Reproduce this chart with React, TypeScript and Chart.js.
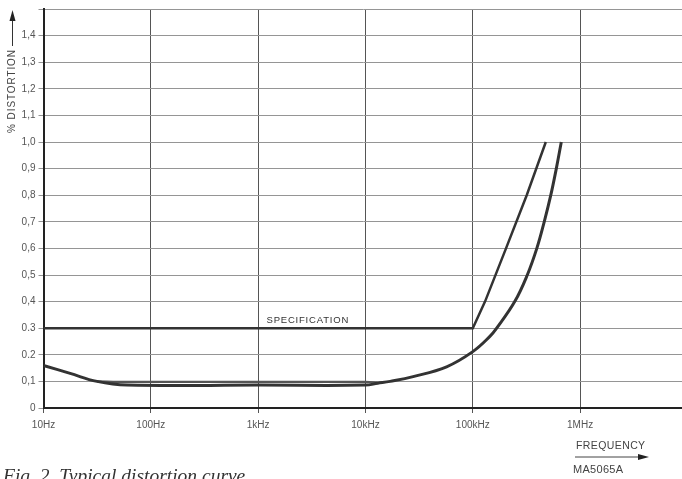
import React, { useEffect, useRef } from "react";
import { Chart, registerables } from "chart.js";

Chart.register(...registerables);

// ---- data ----
const xTickValues = [10, 100, 1000, 10000, 100000, 1000000];
const xTickLabels = ["10Hz", "100Hz", "1kHz", "10kHz", "100kHz", "1MHz"];
const yTickValues = [0, 0.1, 0.2, 0.3, 0.4, 0.5, 0.6, 0.7, 0.8, 0.9, 1.0, 1.1, 1.2, 1.3, 1.4, 1.5];
const yTickLabels = ["0", "0,1", "0.2", "0.3", "0,4", "0,5", "0,6", "0,7", "0,8", "0,9", "1,0", "1,1", "1,2", "1,3", "1,4", ""];

const specFreq = [10, 100000, 130000, 204000, 318000, 479000];
const specDist = [0.3, 0.3, 0.4, 0.6, 0.8, 1.0];

const typicalFreq = [10, 17.7, 31.5, 60, 1000, 10000, 13000, 17000, 27800, 57000, 100000, 145000, 167000, 246000, 322000, 395000, 463000, 533000, 600000, 668000];
const typicalDist = [0.16, 0.13, 0.1, 0.086, 0.086, 0.086, 0.093, 0.1, 0.118, 0.155, 0.212, 0.27, 0.3, 0.4, 0.5, 0.6, 0.7, 0.8, 0.9, 1.0];

const bandFreq = [31.5, 60, 1000, 10000, 13000];
const bandDist = [0.1, 0.098, 0.098, 0.098, 0.095];

const X_MIN = 10;
const X_MAX = 8.9e6;
const Y_MAX = 1.5;

const specLabel = "SPECIFICATION";
const specLabelAt = { x: 2900, y: 0.33 };
const yTitle = "% DISTORTION";
const xTitle = "FREQUENCY";
const figCode = "MA5065A";
const caption = "Fig. 2. Typical distortion curve";

const toPts = (xs: number[], ys: number[]) => xs.map((x, i) => ({ x, y: ys[i] }));

const INK = "#333333";

const textPlugin = {
  id: "extraText",
  afterDraw(chart: any) {
    const ctx = chart.ctx as CanvasRenderingContext2D;
    const xs = chart.scales.x;
    const ys = chart.scales.y;
    ctx.save();
    // specification label
    ctx.fillStyle = INK;
    ctx.font = "9.5px 'Liberation Sans', Arial, sans-serif";
    (ctx as any).letterSpacing = "0.8px";
    ctx.textAlign = "center";
    ctx.textBaseline = "middle";
    ctx.fillText(specLabel, xs.getPixelForValue(specLabelAt.x), ys.getPixelForValue(specLabelAt.y));

    // y title rotated with arrow
    ctx.save();
    ctx.translate(12.5, 91);
    ctx.rotate(-Math.PI / 2);
    ctx.font = "10px 'Liberation Sans', Arial, sans-serif";
    (ctx as any).letterSpacing = "0.9px";
    ctx.fillStyle = "#444";
    ctx.textAlign = "center";
    ctx.textBaseline = "middle";
    ctx.fillText(yTitle, 0, 0);
    ctx.restore();
    (ctx as any).letterSpacing = "0px";
    ctx.strokeStyle = "#333";
    ctx.lineWidth = 1;
    ctx.beginPath();
    ctx.moveTo(12.5, 46);
    ctx.lineTo(12.5, 18);
    ctx.stroke();
    ctx.fillStyle = "#222";
    ctx.beginPath();
    ctx.moveTo(12.5, 10);
    ctx.lineTo(9.5, 21);
    ctx.lineTo(15.5, 21);
    ctx.closePath();
    ctx.fill();

    // frequency label + arrow
    ctx.font = "10.5px 'Liberation Sans', Arial, sans-serif";
    (ctx as any).letterSpacing = "0.4px";
    ctx.fillStyle = "#444";
    ctx.textAlign = "left";
    ctx.textBaseline = "middle";
    ctx.fillText(xTitle, 576, 446);
    (ctx as any).letterSpacing = "0px";
    ctx.strokeStyle = "#444";
    ctx.lineWidth = 1;
    ctx.beginPath();
    ctx.moveTo(575, 457);
    ctx.lineTo(641, 457);
    ctx.stroke();
    ctx.fillStyle = "#222";
    ctx.beginPath();
    ctx.moveTo(649, 457);
    ctx.lineTo(638, 454);
    ctx.lineTo(638, 460);
    ctx.closePath();
    ctx.fill();

    ctx.font = "11px 'Liberation Sans', Arial, sans-serif";
    (ctx as any).letterSpacing = "0.3px";
    ctx.fillStyle = "#444";
    ctx.fillText(figCode, 573, 470);
    (ctx as any).letterSpacing = "0px";

    // caption
    ctx.font = "italic 19.5px 'Liberation Serif', 'Times New Roman', serif";
    ctx.fillStyle = "#333";
    ctx.textBaseline = "alphabetic";
    ctx.fillText(caption, 3, 482);
    ctx.restore();
  },
};

export default function App() {
  const ref = useRef<HTMLCanvasElement | null>(null);
  useEffect(() => {
    if (!ref.current) return;
    const chart = new Chart(ref.current, {
      type: "line",
      data: {
        datasets: [
          {
            data: toPts(specFreq, specDist),
            borderColor: INK,
            borderWidth: 2.5,
            pointRadius: 0,
            tension: 0,
            fill: false,
          },
          {
            data: toPts(typicalFreq, typicalDist),
            borderColor: INK,
            borderWidth: 3,
            pointRadius: 0,
            tension: 0.4,
            fill: false,
          },
          {
            data: toPts(bandFreq, bandDist),
            borderColor: "#555",
            borderWidth: 2.2,
            pointRadius: 0,
            cubicInterpolationMode: "monotone",
            fill: false,
          },
        ],
      },
      options: {
        animation: false,
        responsive: false,
        layout: { padding: { top: 8.5, right: 0, left: 0, bottom: 0 } },
        plugins: { legend: { display: false }, tooltip: { enabled: false } },
        scales: {
          x: {
            type: "logarithmic",
            min: X_MIN,
            max: X_MAX,
            afterBuildTicks: (scale: any) => {
              scale.ticks = xTickValues.map((v) => ({ value: v }));
            },
            afterFit: (scale: any) => {
              scale.height = 71;
            },
            ticks: {
              autoSkip: false,
              maxRotation: 0,
              padding: 6,
              color: "#555",
              font: { family: "'Liberation Sans', Arial, sans-serif", size: 10 },
              callback: (_v: any, i: number) => xTickLabels[i],
            },
            grid: { color: "#555", lineWidth: 1, tickLength: 5 },
            border: { display: true, color: "#222", width: 2 },
          },
          y: {
            type: "linear",
            min: 0,
            max: Y_MAX,
            afterBuildTicks: (scale: any) => {
              scale.ticks = yTickValues.map((v) => ({ value: v }));
            },
            afterFit: (scale: any) => {
              scale.width = 43.5;
            },
            ticks: {
              autoSkip: false,
              padding: 3,
              color: "#555",
              font: { family: "'Liberation Sans', Arial, sans-serif", size: 10 },
              callback: (_v: any, i: number) => yTickLabels[i],
            },
            grid: { color: "#959595", lineWidth: 1, tickLength: 5 },
            border: { display: true, color: "#222", width: 2 },
          },
        },
      },
      plugins: [textPlugin],
    } as any);
    return () => chart.destroy();
  }, []);
  return (
    <div style={{ position: "absolute", left: 0, top: 0, width: 682, height: 479, background: "#fff" }}>
      <canvas ref={ref} width={682} height={479} />
    </div>
  );
}
